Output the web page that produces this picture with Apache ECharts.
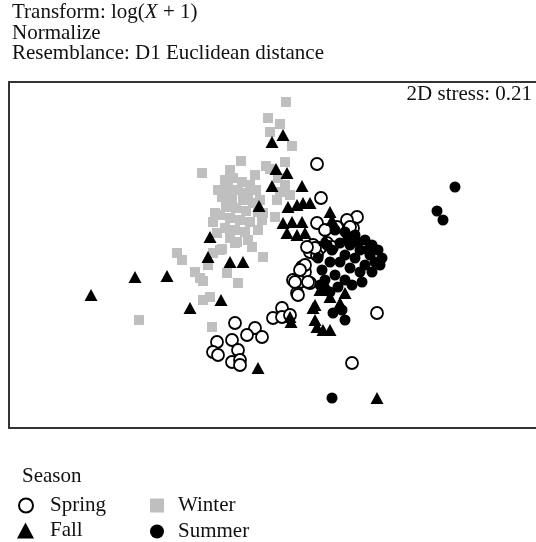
<!DOCTYPE html>
<html>
<head>
<meta charset="utf-8">
<script src="https://cdn.jsdelivr.net/npm/echarts@6/dist/echarts.min.js"></script>
<style>html,body{margin:0;padding:0;background:#fff}#c{width:536px;height:542px}</style>
</head>
<body>
<div id="c"></div>
<script>
// NMDS ordination scores (arbitrary plot units)
var spring = [[317,164],[321,198],[317,223],[357,217],[347,220],[353,228],[325,230],[337,227],[350,227],[313,245],[320,248],[327,243],[332,247],[310,252],[317,255],[315,248],[307,247],[302,267],[305,272],[293,280],[300,282],[310,283],[297,293],[305,265],[300,270],[295,282],[308,282],[298,295],[282,308],[273,318],[282,317],[290,315],[235,323],[255,328],[247,335],[262,337],[217,342],[232,340],[238,350],[213,352],[218,355],[232,362],[240,360],[240,365],[352,363],[377,313]];
var fall = [[91,295],[135,277],[167,276],[190,308],[221,300],[208,257],[230,262],[243,262],[210,237],[259,206],[272,142],[283,135],[276,169],[287,173],[272,186],[302,186],[297,205],[303,203],[310,203],[288,207],[330,212],[283,223],[292,222],[302,222],[287,233],[297,235],[305,233],[332,220],[325,240],[320,290],[327,287],[345,293],[315,305],[330,297],[340,303],[291,322],[290,317],[313,308],[315,320],[317,327],[323,330],[330,330],[258,368],[377,398]];
var winter = [[286,102],[268,118],[280,124],[270,132],[292,146],[241,161],[285,162],[266,166],[270,169],[202,173],[225,180],[233,178],[242,182],[250,185],[228,188],[238,190],[248,193],[256,190],[222,197],[232,198],[243,200],[253,203],[226,207],[236,208],[246,211],[220,215],[230,218],[240,220],[250,222],[225,228],[235,230],[245,232],[215,213],[217,233],[237,242],[252,247],[263,257],[220,250],[213,253],[177,253],[182,260],[222,249],[208,265],[195,272],[200,278],[203,281],[227,273],[238,283],[235,243],[203,300],[210,297],[139,320],[212,327],[278,178],[285,185],[280,192],[290,195],[277,200],[263,213],[275,217],[262,220],[258,230],[218,190],[230,170],[255,175],[260,200],[213,222],[248,240],[230,238],[258,212]];
var summer = [[455,187],[437,211],[443,220],[335,230],[345,232],[355,235],[365,240],[372,245],[378,250],[382,258],[375,262],[370,255],[360,250],[350,245],[340,243],[332,250],[345,255],[355,258],[365,265],[372,272],[360,272],[350,268],[340,262],[330,262],[322,270],[335,275],[345,280],[338,287],[325,280],[318,258],[352,285],[362,282],[380,265],[368,250],[358,242],[348,238],[327,245],[320,285],[330,292],[333,313],[342,310],[345,320],[332,398]];
var seasonNames = ['Spring', 'Fall', 'Winter', 'Summer'];

var chart = echarts.init(document.getElementById('c'));
var serif = '"Liberation Serif", "DejaVu Serif", serif';
var FS = 21;
function leg(name, left, top, w, h, pad) {
  return {data: [name], orient: 'vertical', left: left, top: top, padding: 0, itemWidth: w, itemHeight: h,
    textStyle: {fontFamily: serif, fontSize: FS, color: '#111', padding: [0, 0, 0, pad], lineHeight: h}};
}
var lineStyle = {color: '#333', width: 2};
chart.setOption({
  animation: false,
  backgroundColor: '#fff',
  grid: {left: 9, top: 82, right: 0, height: 346, show: false},
  xAxis: [
    {type: 'value', min: 9, max: 536, position: 'bottom', axisLine: {show: true, onZero: false, lineStyle: lineStyle}, axisTick: {show: false}, axisLabel: {show: false}, splitLine: {show: false}},
    {type: 'value', min: 9, max: 536, position: 'top', axisLine: {show: true, onZero: false, lineStyle: lineStyle}, axisTick: {show: false}, axisLabel: {show: false}, splitLine: {show: false}}
  ],
  yAxis: {type: 'value', min: 82, max: 428, inverse: true, axisLine: {show: true, onZero: false, lineStyle: lineStyle}, axisTick: {show: false}, axisLabel: {show: false}, splitLine: {show: false}},
  graphic: [
    {type: 'text', left: 12, top: 2, style: {rich: {a: {fontFamily: serif, fontSize: FS, fill: '#111'}, i: {fontFamily: serif, fontSize: FS, fontStyle: 'italic', fill: '#111'}}, text: '{a|Transform: log(}{i|X}{a| + 1)}'}},
    {type: 'text', left: 12, top: 22.5, style: {text: 'Normalize', font: FS + 'px ' + serif, fill: '#111'}},
    {type: 'text', left: 12, top: 43, style: {text: 'Resemblance: D1 Euclidean distance', font: FS + 'px ' + serif, fill: '#111'}},
    {type: 'text', right: 4, top: 84, style: {text: '2D stress: 0.21', font: FS + 'px ' + serif, fill: '#111'}},
    {type: 'text', left: 22, top: 466, style: {text: 'Season', font: FS + 'px ' + serif, fill: '#111'}}
  ],
  legend: [
    leg(seasonNames[0], 18, 495, 14, 14, 12),
    leg(seasonNames[1], 17, 520, 17, 16, 11),
    leg(seasonNames[2], 150, 495, 14, 14, 9),
    leg(seasonNames[3], 150, 521, 14, 14, 9)
  ],
  series: [
    {name: 'Winter', type: 'scatter', data: winter, symbol: 'rect', symbolSize: 10, itemStyle: {color: '#bfbfbf', opacity: 1}, z: 1},
    {name: 'Spring', type: 'scatter', data: spring, symbol: 'circle', symbolSize: 12, itemStyle: {color: '#fff', borderColor: '#000', borderWidth: 1.8, opacity: 1}, z: 2},
    {name: 'Summer', type: 'scatter', data: summer, symbol: 'circle', symbolSize: 11, itemStyle: {color: '#000', opacity: 1}, z: 3},
    {name: 'Fall', type: 'scatter', data: fall, symbol: 'triangle', symbolSize: [13, 12], itemStyle: {color: '#000', opacity: 1}, z: 4}
  ]
});
</script>
</body>
</html>
